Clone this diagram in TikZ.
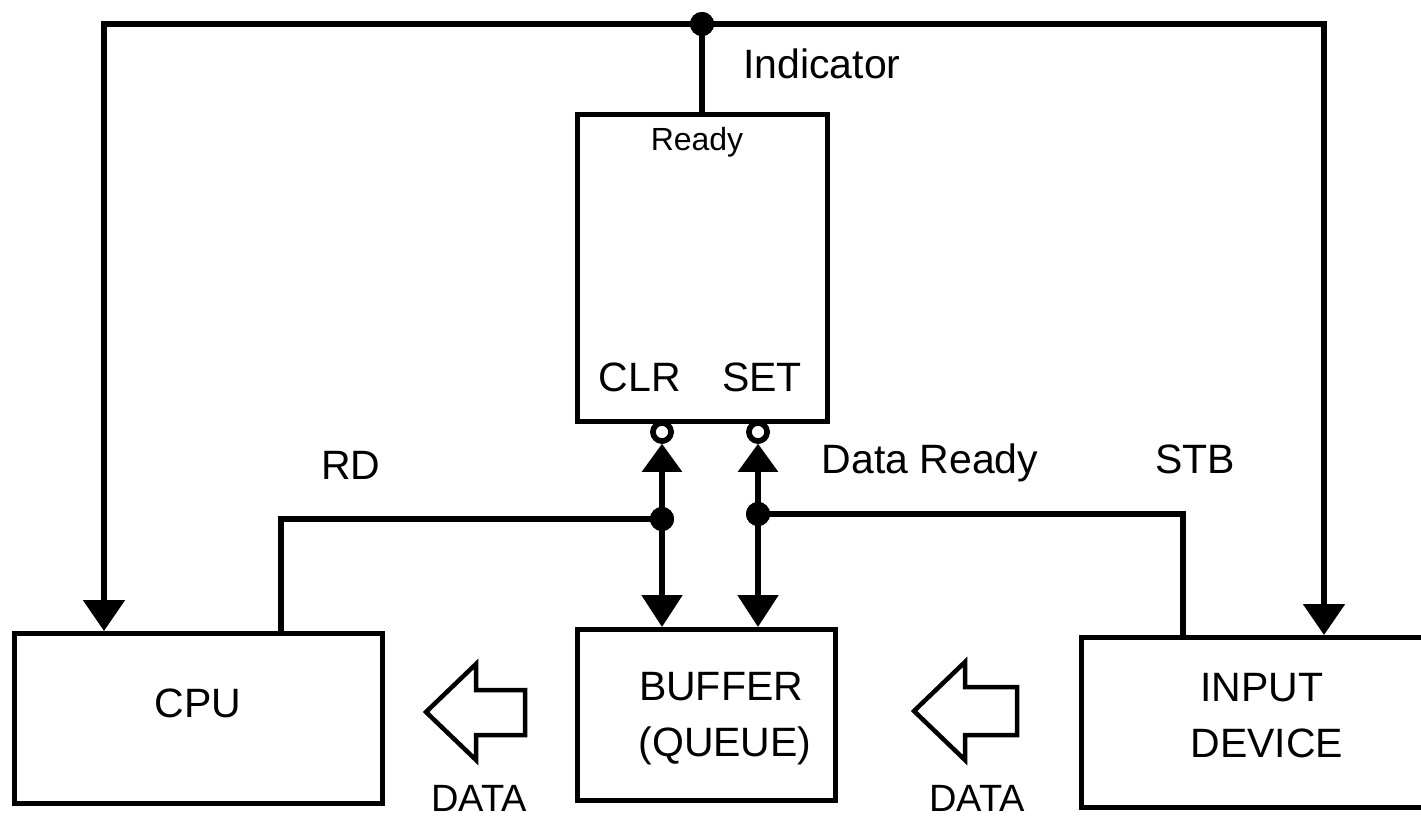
\documentclass[tikz,border=0pt]{standalone}
\usepackage{fontspec}
\setmainfont{Liberation Sans}
\usetikzlibrary{arrows.meta}
\begin{document}
\begin{tikzpicture}[x=1pt,y=-1pt,
  box/.style={draw, line width=5pt, rectangle, inner sep=0pt},
  txt/.style={font=\fontsize{41}{49}\selectfont, inner sep=0pt, anchor=base},
  dot/.style={circle, fill=black, minimum size=24pt, inner sep=0pt},
  ring/.style={circle, draw, line width=5.5pt, fill=white, minimum size=18pt, inner sep=0pt},
  wire/.style={line width=5.5pt},
  tipA/.style={-{Triangle[width=41pt,length=31pt]}},
  both/.style={{Triangle[width=39pt,length=28pt]}-{Triangle[width=40pt,length=32pt]}},
  hollow/.style={draw, line width=4.5pt, line join=miter, fill=white}
]
\useasboundingbox (0,0) rectangle (1421,818);
\clip (0,0) rectangle (1421,818);
\fill[white] (0,0) rectangle (1421,818);

% boxes
\node[box, minimum width=368pt, minimum height=170pt] (cpu) at (198.5,718.5) {};
\node[box, minimum width=250pt, minimum height=307pt] (ready) at (702.5,268) {};
\node[box, minimum width=258pt, minimum height=171pt] (buf) at (706.5,715) {};
\node[box, minimum width=358.5pt, minimum height=170pt] (inp) at (1260.75,722.5) {};

% junctions and inversion rings
\node[dot] (jtop) at (702,24) {};
\node[dot] (jclr) at (662,519) {};
\node[dot] (jset) at (758,514) {};
\node[ring] (clr) at (662,432) {};
\node[ring] (set) at (758,432) {};

% wires
\draw[wire] (jtop.center) -- (jtop.center |- ready.north);
\draw[wire, tipA] (jtop.center) -| ([xshift=92pt]cpu.north west);
\draw[wire, tipA] (jtop.center) -| ([xshift=245pt]inp.north west);
\draw[wire] ([xshift=269pt]cpu.north west) |- (jclr.center);
\draw[wire, both] (clr.south) -- (clr.south |- buf.north);
\draw[wire, both] (set.south) -- (set.south |- buf.north);
\draw[wire] (jset.center) -| ([xshift=104pt]inp.north west);

% redraw dots and rings on top
\node[dot] at (jtop) {};
\node[dot] at (jclr) {};
\node[dot] at (jset) {};
\node[ring] at (clr) {};
\node[ring] at (set) {};

% hollow data arrows
\draw[hollow] (426,712) -- (476,664) -- (476,690) -- (525,690) -- (525,735) -- (476,735) -- (476,760) -- cycle;
\draw[hollow] (914,711) -- (965,662) -- (965,687) -- (1017,687) -- (1017,735) -- (965,735) -- (965,760) -- cycle;

% texts
\node[txt] (tind) at (822,79) {Indicator};
\node[txt, font=\fontsize{32}{38}\selectfont] (trdy) at (697,151) {Ready};
\node[txt] (tclr) at (640,391) {CLR};
\node[txt] (tset) at (762,391) {SET};
\node[txt] (trd) at (351,479) {RD};
\node[txt] (tdr) at (930,473) {Data Ready};
\node[txt] (tstb) at (1195,473) {STB};
\node[txt] (tcpu) at (198,717) {CPU};
\node[txt] (tbuf1) at (721,700) {BUFFER};
\node[txt] (tbuf2) at (725,756) {(QUEUE)};
\node[txt] (tin1) at (1262,701) {INPUT};
\node[txt] (tin2) at (1267,757) {DEVICE};
\node[txt, font=\fontsize{38}{46}\selectfont] (td1) at (479,811) {DATA};
\node[txt, font=\fontsize{38}{46}\selectfont] (td2) at (977,811) {DATA};
\end{tikzpicture}
\end{document}
